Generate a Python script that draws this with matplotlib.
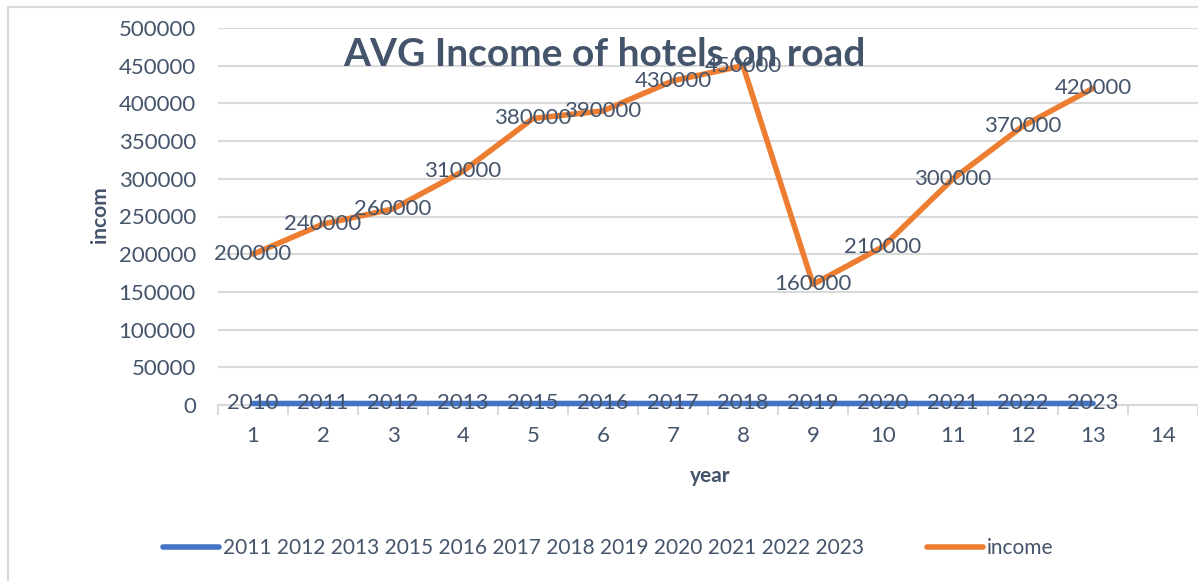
import matplotlib
matplotlib.use("Agg")
import matplotlib.pyplot as plt
from matplotlib.patches import Rectangle

# ---- data ----
categories = list(range(1, 15))
year_x = list(range(1, 14))
year_values = [2010, 2011, 2012, 2013, 2015, 2016, 2017, 2018, 2019, 2020, 2021, 2022, 2023]
income_values = [200000, 240000, 260000, 310000, 380000, 390000, 430000, 450000,
                 160000, 210000, 300000, 370000, 420000]
yticks = [0, 50000, 100000, 150000, 200000, 250000, 300000, 350000, 400000, 450000, 500000]
year_label = "2011 2012 2013 2015 2016 2017 2018 2019 2020 2021 2022 2023"
income_label = "income"
title = "AVG Income of hotels on road"

W, H = 1198, 581
TXT = "#44546A"
GRID = "#D9D9D9"
BLUE = "#4472C4"
ORANGE = "#ED7D31"
FONT = "Lato"

plt.rcParams['font.family'] = [FONT, 'DejaVu Sans']

fig = plt.figure(figsize=(W / 100, H / 100), dpi=100)
fig.patch.set_facecolor("white")

# chart-area frame
fig.add_artist(Rectangle((8 / W, -0.05), 1.2, (H - 7) / H + 0.05, transform=fig.transFigure,
                         fill=False, edgecolor=GRID, linewidth=1.5))

left, right = 218 / W, 1.0
bottom, top = (H - 405) / H, (H - 28) / H
ax = fig.add_axes([left, bottom, right - left, top - bottom])

ax.set_xlim(0.5, 14.5)
ax.set_ylim(0, 500000)

for s in ["top", "right", "left"]:
    ax.spines[s].set_visible(False)
ax.spines["bottom"].set_color(GRID)
ax.spines["bottom"].set_linewidth(1.5)

ax.set_yticks(yticks)
ax.set_yticklabels([str(v) for v in yticks])
ax.tick_params(axis="y", length=0, pad=16, labelsize=16, labelcolor=TXT)
ax.grid(axis="y", color=GRID, linewidth=1.5)
ax.set_axisbelow(True)

ax.set_xticks(categories)
ax.set_xticklabels([str(c) for c in categories])
ax.set_xticks([c + 0.5 for c in [0] + categories], minor=True)
ax.tick_params(axis="x", which="major", length=0, pad=15, labelsize=16, labelcolor=TXT)
ax.tick_params(axis="x", which="minor", length=7, width=1.5, color=GRID, direction="out")

l1, = ax.plot(year_x, year_values, color=BLUE, linewidth=4, solid_capstyle="round",
              label=year_label, clip_on=False, zorder=3)
l2, = ax.plot(year_x, income_values, color=ORANGE, linewidth=4, solid_capstyle="round",
              label=income_label, clip_on=False, zorder=3)

for x, v in zip(year_x, year_values):
    ax.text(x, v, str(v), ha="center", va="center", fontsize=16, color=TXT, zorder=4, clip_on=False)
for x, v in zip(year_x, income_values):
    ax.text(x, v, str(v), ha="center", va="center", fontsize=16, color=TXT, zorder=4, clip_on=False)

ax.set_ylabel("incom", fontsize=15, fontweight="bold", color=TXT)
ax.yaxis.set_label_coords((110 - 218) / (W * (right - left)), (405 - 215) / (405 - 28))
ax.set_xlabel("year", fontsize=15, fontweight="bold", color=TXT)
ax.xaxis.set_label_coords((710 - 218) / (W * (right - left)), -(466 - 405) / (405 - 28))

fig.text(604 / W, 1 - 55 / H, title, ha="center", va="center", fontsize=28,
         fontweight="bold", color=TXT, zorder=10)

leg = fig.legend(handles=[l1, l2], loc="center", bbox_to_anchor=(608 / W, 1 - 548 / H),
                 ncol=2, frameon=False, fontsize=15, handlelength=2.7, handletextpad=0.2,
                 columnspacing=3.0, labelcolor=TXT)

fig.savefig("out.png", dpi=100, facecolor="white")
